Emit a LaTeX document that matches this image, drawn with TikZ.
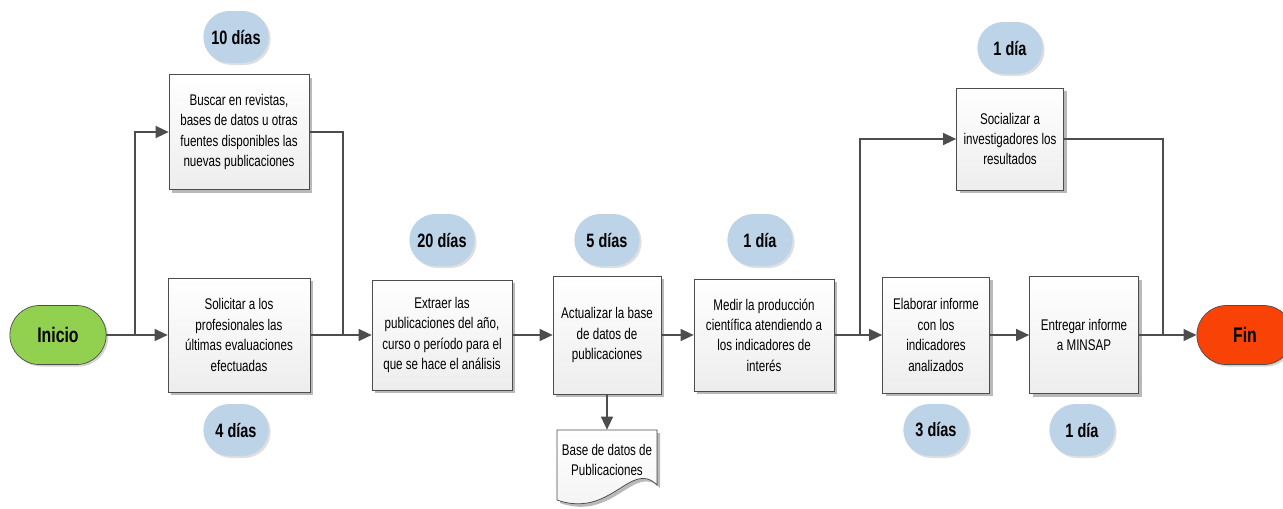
\documentclass[tikz,border=0pt]{standalone}
\usepackage{fontspec}
\setmainfont{Liberation Sans}[FakeStretch=0.75]
\usetikzlibrary{shapes.misc,shadows,arrows.meta}

\definecolor{verdeinicio}{HTML}{92D050}
\definecolor{rojofin}{HTML}{F94306}
\definecolor{azuldias}{HTML}{BDD3E8}
\definecolor{grislinea}{HTML}{4D4D4D}

\tikzset{
  paso/.style={draw=grislinea, top color=white, bottom color=gray!14, align=center,
    font=\fontsize{8.8}{11.6}\selectfont, inner sep=2pt,
    drop shadow={shadow xshift=0.6mm, shadow yshift=-0.6mm, fill=gray!55, opacity=1}},
  dias/.style={rounded rectangle, fill=azuldias, minimum width=15.4mm, minimum height=10.4mm,
    font=\fontsize{11}{13}\selectfont\bfseries,
    drop shadow={shadow xshift=0.4mm, shadow yshift=-0.4mm, fill=gray!25, opacity=1}},
  terminal/.style={rounded rectangle, draw=grislinea, minimum width=21.6mm, minimum height=11.8mm,
    font=\fontsize{12}{14}\selectfont\bfseries,
    drop shadow={shadow xshift=0.4mm, shadow yshift=-0.4mm, fill=gray!35, opacity=1}},
  linea/.style={draw=grislinea, thick},
  flecha/.style={linea, -{Triangle[length=2.6mm, width=2.4mm]}},
}

\begin{document}
\begin{tikzpicture}[x=0.2mm, y=-0.2mm]
    \useasboundingbox (0,0) rectangle (1283,508);

    % inicio y fin
    \node[terminal, fill=verdeinicio] (inicio) at (58,335) {Inicio};
    \node[terminal, fill=rojofin, minimum width=21.6mm] (fin) at (1245,335) {Fin};

    % pasos
    \node[paso, minimum width=28mm, minimum height=23mm] (buscar) at (239,132)
        {Buscar en revistas,\\bases de datos u otras\\fuentes disponibles las\\nuevas publicaciones};
    \node[paso, minimum width=28.4mm, minimum height=22.8mm] (solicitar) at (239,335)
        {Solicitar a los\\profesionales las\\últimas evaluaciones\\efectuadas};
    \node[paso, minimum width=28mm, minimum height=22mm] (extraer) at (442,335)
        {Extraer las\\publicaciones del año,\\curso o período para el\\que se hace el análisis};
    \node[paso, minimum width=21.6mm, minimum height=23.6mm] (actualizar) at (607,335)
        {Actualizar la base\\de datos de\\publicaciones};
    \node[paso, minimum width=28mm, minimum height=22.4mm] (medir) at (764,335)
        {Medir la producción\\científica atendiendo a\\los indicadores de\\interés};
    \node[paso, minimum width=21.4mm, minimum height=20.4mm] (socializar) at (1010,139)
        {Socializar a\\investigadores los\\resultados};
    \node[paso, minimum width=21.4mm, minimum height=23.2mm] (elaborar) at (936,335)
        {Elaborar informe\\con los\\indicadores\\analizados};
    \node[paso, minimum width=21.8mm, minimum height=23.4mm] (entregar) at (1084,335)
        {Entregar informe\\a MINSAP};

    % documento
    \fill[gray!55] (560,433) -- (660,433) -- (660,488)
        .. controls (634,462) and (614,522) .. (560,503) -- cycle;
    \filldraw[draw=grislinea, top color=white, bottom color=gray!10] (557,430) -- (657,430) -- (657,485)
        .. controls (631,459) and (611,519) .. (557,500) -- cycle;
    \node[align=center, font=\fontsize{8.8}{11.6}\selectfont, minimum width=20mm, minimum height=12mm]
        (documento) at (607,460) {Base de datos de\\Publicaciones};

    % duraciones
    \node[dias] (d1) at (236,37) {10 días};
    \node[dias] (d2) at (236,430) {4 días};
    \node[dias] (d3) at (442,240) {20 días};
    \node[dias] (d4) at (607,240) {5 días};
    \node[dias] (d5) at (760,240) {1 día};
    \node[dias] (d6) at (1010,48) {1 día};
    \node[dias] (d7) at (936,430) {3 días};
    \node[dias] (d8) at (1082,430) {1 día};

    % conectores
    \coordinate (div1) at (135,335);
    \coordinate (une1) at (343,335);
    \coordinate (div2) at (860,335);
    \coordinate (une2) at (1163,335);
    \draw[linea] (inicio.east) -- (div1);
    \draw[flecha] (div1) |- (buscar.west);
    \draw[flecha] (div1) -- (solicitar.west);
    \draw[linea] (buscar.east) -| (une1);
    \draw[flecha] (solicitar.east) -- (extraer.west);
    \draw[flecha] (extraer.east) -- (actualizar.west);
    \draw[flecha] (actualizar.south) -- (documento.north);
    \draw[flecha] (actualizar.east) -- (medir.west);
    \draw[linea] (medir.east) -- (div2);
    \draw[flecha] (div2) |- (socializar.west);
    \draw[flecha] (div2) -- (elaborar.west);
    \draw[flecha] (elaborar.east) -- (entregar.west);
    \draw[linea] (socializar.east) -| (une2);
    \draw[flecha] (entregar.east) -- (fin.west);

\end{tikzpicture}
\end{document}
